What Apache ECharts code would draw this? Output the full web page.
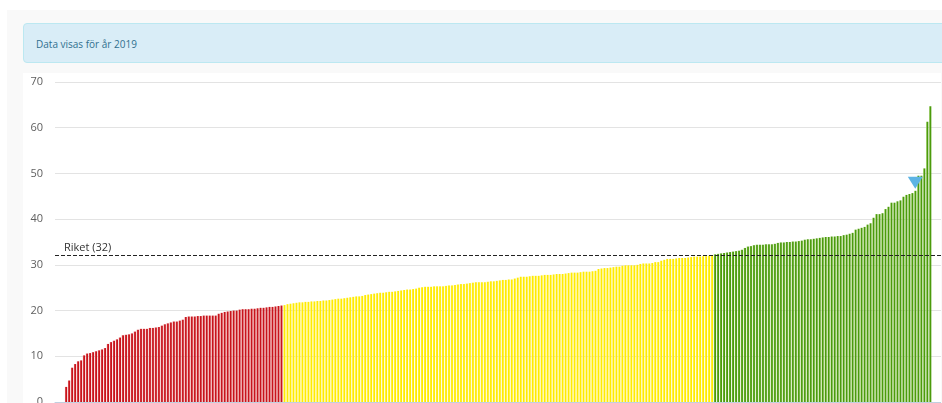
<!DOCTYPE html>
<html>
<head>
<meta charset="utf-8">
<script src="https://cdn.jsdelivr.net/npm/echarts@6/dist/echarts.min.js"></script>
<style>
  html, body { margin: 0; padding: 0; background: #fff; width: 942px; height: 403px; overflow: hidden; }
  .panel { position: absolute; left: 7px; top: 10px; right: 0; bottom: 0; background: #f9f9f9; }
  .alert {
    position: absolute; left: 23px; top: 23px; width: 930px; height: 40px;
    background: #d9edf7; border: 1px solid #bce8f1; border-radius: 4px;
    color: #31708f; font: 10px "Open Sans", sans-serif; line-height: 40px;
    padding-left: 12px; box-sizing: border-box;
  }
  .chart-box { position: absolute; left: 23px; top: 73px; width: 918px; height: 340px; background: #fff; }
  #chart { width: 100%; height: 100%; }
</style>
</head>
<body>
<div class="panel"></div>
<div class="alert">Data visas för år 2019</div>
<div class="chart-box"><div id="chart"></div></div>
<script>
// lägsta kvartilen (röd)
const redValues = [
  3.3, 4.7, 7.5, 8.3, 8.9, 9.1, 10.2, 10.6, 10.7, 10.9,
  11.1, 11.3, 11.5, 11.8, 12.7, 13.1, 13.4, 13.7, 14.1, 14.6,
  14.7, 14.8, 15.0, 15.4, 15.8, 16.0, 16.0, 16.0, 16.2, 16.2,
  16.3, 16.4, 16.7, 17.0, 17.2, 17.4, 17.6, 17.6, 17.8, 18.0,
  18.6, 18.7, 18.7, 18.7, 18.8, 18.8, 18.9, 18.9, 18.9, 18.9,
  18.9, 19.3, 19.5, 19.7, 19.8, 19.9, 20.0, 20.0, 20.2, 20.3,
  20.3, 20.3, 20.4, 20.4, 20.5, 20.6, 20.6, 20.7, 20.8, 20.8,
  20.9, 21.0, 21.1
]
// mitten (gul)
const yellowValues = [
  21.2, 21.4, 21.5, 21.6, 21.7, 21.8, 21.8, 21.9, 21.9, 22.0,
  22.0, 22.1, 22.1, 22.2, 22.2, 22.3, 22.4, 22.5, 22.6, 22.6,
  22.7, 22.8, 22.9, 23.0, 23.1, 23.1, 23.2, 23.4, 23.5, 23.6,
  23.7, 23.8, 23.9, 23.9, 24.0, 24.1, 24.1, 24.2, 24.3, 24.4,
  24.5, 24.6, 24.6, 24.7, 24.8, 25.0, 25.1, 25.2, 25.2, 25.2,
  25.3, 25.3, 25.3, 25.3, 25.4, 25.5, 25.5, 25.6, 25.7, 25.8,
  25.8, 25.9, 26.0, 26.1, 26.2, 26.2, 26.2, 26.2, 26.3, 26.4,
  26.4, 26.5, 26.6, 26.7, 26.7, 26.8, 26.8, 27.0, 27.2, 27.4,
  27.4, 27.4, 27.5, 27.6, 27.6, 27.6, 27.7, 27.8, 27.8, 27.8,
  27.9, 28.0, 28.0, 28.0, 28.1, 28.2, 28.3, 28.3, 28.3, 28.4,
  28.5, 28.5, 28.5, 28.6, 28.7, 29.1, 29.2, 29.3, 29.3, 29.4,
  29.5, 29.6, 29.6, 29.8, 29.9, 29.9, 29.9, 29.9, 30.0, 30.2,
  30.3, 30.3, 30.3, 30.4, 30.6, 30.6, 30.9, 31.1, 31.3, 31.3,
  31.3, 31.4, 31.5, 31.5, 31.5, 31.6, 31.7, 31.8, 31.8, 31.8,
  31.9, 31.9, 32.0, 32.1
]
// högsta kvartilen (grön)
const greenValues = [
  32.3, 32.4, 32.5, 32.6, 32.7, 32.8, 32.9, 33.0, 33.1, 33.3,
  33.7, 34.0, 34.1, 34.3, 34.4, 34.4, 34.4, 34.5, 34.5, 34.5,
  34.6, 34.8, 34.9, 34.9, 35.0, 35.0, 35.1, 35.1, 35.2, 35.3,
  35.5, 35.6, 35.6, 35.7, 35.8, 35.9, 36.0, 36.1, 36.1, 36.2,
  36.2, 36.3, 36.3, 36.5, 36.6, 36.8, 37.0, 37.7, 37.9, 38.1,
  38.3, 38.8, 39.1, 40.3, 41.1, 41.1, 41.3, 42.2, 42.7, 43.6,
  43.6, 43.9, 44.1, 44.9, 45.3, 45.5, 45.7, 46.2, 49.5, 49.5,
  51.1, 61.3, 64.7
]
const riketValue = 32
const selectedIndex = 284
const yTicks = [0, 10, 20, 30, 40, 50, 60, 70]

const barColors = [
  ['#e77b7b', '#c8141c'],
  ['#fff690', '#ffeb00'],
  ['#a6d46f', '#4b9b0c'],
]

const chart = echarts.init(document.getElementById('chart'))

const gradient = ([light, dark]) =>
  new echarts.graphic.LinearGradient(0, 0, 1, 0, [
    { offset: 0, color: light },
    { offset: 0.45, color: dark },
    { offset: 1, color: dark },
  ])

const barData = []
;[redValues, yellowValues, greenValues].forEach((group, g) => {
  const color = gradient(barColors[g])
  group.forEach((v) => {
    barData.push({ value: [barData.length, v], itemStyle: { color } })
  })
})

chart.setOption({
  animation: false,
  grid: { left: 32, right: 0, top: 9, bottom: 11 },
  xAxis: {
    type: 'value',
    min: -3.7,
    max: 292.6,
    axisLine: { show: true, lineStyle: { color: '#c0d0e0' } },
    axisTick: { show: false },
    axisLabel: { show: false },
    splitLine: { show: false },
  },
  yAxis: {
    type: 'value',
    min: yTicks[0],
    max: yTicks[yTicks.length - 1],
    interval: 10,
    axisLine: { show: false },
    axisTick: { show: false },
    axisLabel: { color: '#606060', fontSize: 11, margin: 12, fontFamily: 'Open Sans' },
    splitLine: { lineStyle: { color: '#e3e3e3' } },
  },
  series: [
    {
      type: 'bar',
      data: barData,
      barWidth: 2.2,
      markLine: {
        silent: true,
        symbol: 'none',
        lineStyle: { color: '#222', width: 1, type: [4, 2] },
        label: {
          position: 'insideStartTop',
          formatter: 'Riket (' + riketValue + ')',
          color: '#333',
          fontSize: 11,
          fontFamily: 'Open Sans',
          distance: [9, 2],
        },
        data: [{ yAxis: riketValue }],
      },
      markPoint: {
        silent: true,
        symbol: 'triangle',
        symbolRotate: 180,
        symbolSize: [15, 12],
        symbolOffset: [0, -8],
        itemStyle: { color: '#5db4e4' },
        label: { show: false },
        data: [{ coord: [selectedIndex, barData[selectedIndex].value[1]] }],
      },
    },
  ],
})
</script>
</body>
</html>
